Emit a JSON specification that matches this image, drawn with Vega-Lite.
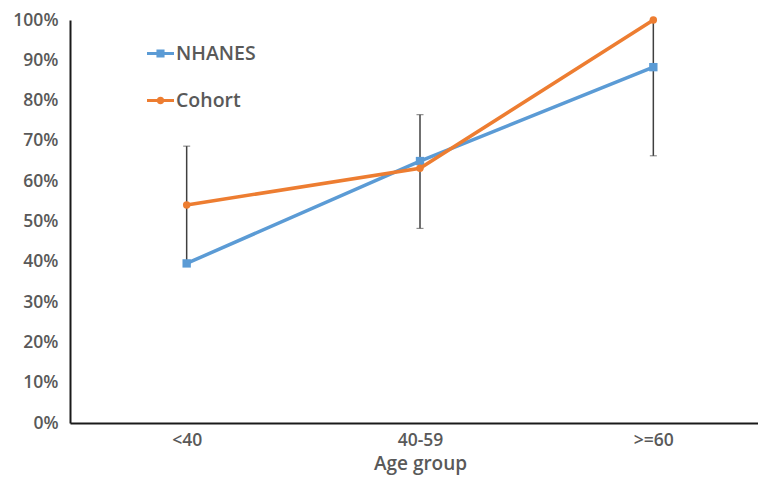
{
  "$schema": "https://vega.github.io/schema/vega-lite/v6.json",
  "width": 700,
  "height": 403,
  "autosize": {"type": "none"},
  "padding": {"left": 70, "top": 20, "right": 0, "bottom": 55},
  "background": "white",
  "config": {
    "view": {"stroke": null},
    "font": "Open Sans",
    "axis": {"grid": false, "ticks": false, "domainColor": "#1a1a1a", "domainWidth": 2, "labelColor": "#595959", "labelFontSize": 17.5, "labelFontWeight": 600, "titleColor": "#595959", "titleFontSize": 19, "titleFontWeight": 600}
  },
  "datasets": {
    "points": [
      {"age": "<40", "series": "NHANES", "value": 0.396},
      {"age": "40-59", "series": "NHANES", "value": 0.65},
      {"age": ">=60", "series": "NHANES", "value": 0.883},
      {"age": "<40", "series": "Cohort", "value": 0.541},
      {"age": "40-59", "series": "Cohort", "value": 0.632},
      {"age": ">=60", "series": "Cohort", "value": 1.0}
    ],
    "errors": [
      {"age": "<40", "lower": 0.396, "upper": 0.687},
      {"age": "40-59", "lower": 0.483, "upper": 0.765},
      {"age": ">=60", "lower": 0.663, "upper": 1.0}
    ]
  },
  "encoding": {
    "x": {
      "field": "age", "type": "ordinal",
      "scale": {"type": "point", "padding": 0.5, "domain": ["<40", "40-59", ">=60"]},
      "axis": {"title": "Age group", "labelAngle": 0, "labelPadding": 8, "titlePadding": 6}
    }
  },
  "layer": [
    {
      "data": {"name": "errors"},
      "mark": {"type": "errorbar", "ticks": {"size": 7, "color": "#404040", "strokeWidth": 1.5}, "rule": {"color": "#404040", "strokeWidth": 1.5}},
      "encoding": {
        "y": {"field": "lower", "type": "quantitative", "scale": {"domain": [0, 1]}, "axis": {"format": ".0%", "title": null, "values": [0,0.1,0.2,0.3,0.4,0.5,0.6,0.7,0.8,0.9,1], "labelPadding": 12}},
        "y2": {"field": "upper"}
      }
    },
    {
      "data": {"name": "points"},
      "transform": [{"filter": "datum.series === 'NHANES'"}],
      "mark": {"type": "line", "color": "#5B9BD5", "strokeWidth": 3.5},
      "encoding": {"y": {"field": "value", "type": "quantitative", "axis": {"format": ".0%", "title": null, "values": [0,0.1,0.2,0.3,0.4,0.5,0.6,0.7,0.8,0.9,1], "labelPadding": 12}}}
    },
    {
      "data": {"name": "points"},
      "transform": [{"filter": "datum.series === 'NHANES'"}],
      "mark": {"type": "point", "shape": "square", "filled": true, "opacity": 1, "color": "#5B9BD5", "size": 70},
      "encoding": {"y": {"field": "value", "type": "quantitative", "axis": {"format": ".0%", "title": null, "values": [0,0.1,0.2,0.3,0.4,0.5,0.6,0.7,0.8,0.9,1], "labelPadding": 12}}}
    },
    {
      "data": {"name": "points"},
      "transform": [{"filter": "datum.series === 'Cohort'"}],
      "mark": {"type": "line", "color": "#ED7D31", "strokeWidth": 3.5},
      "encoding": {"y": {"field": "value", "type": "quantitative", "axis": {"format": ".0%", "title": null, "values": [0,0.1,0.2,0.3,0.4,0.5,0.6,0.7,0.8,0.9,1], "labelPadding": 12}}}
    },
    {
      "data": {"name": "points"},
      "transform": [{"filter": "datum.series === 'Cohort'"}],
      "mark": {"type": "point", "shape": "circle", "filled": true, "opacity": 1, "color": "#ED7D31", "size": 55},
      "encoding": {"y": {"field": "value", "type": "quantitative", "axis": {"format": ".0%", "title": null, "values": [0,0.1,0.2,0.3,0.4,0.5,0.6,0.7,0.8,0.9,1], "labelPadding": 12}}}
    },
    {
      "data": {"name": "points"},
      "transform": [{"filter": "datum.value > 2"}],
      "mark": {"type": "point", "filled": true, "opacity": 1},
      "encoding": {
        "y": {"field": "value", "type": "quantitative", "axis": {"format": ".0%", "title": null, "values": [0,0.1,0.2,0.3,0.4,0.5,0.6,0.7,0.8,0.9,1], "labelPadding": 12}},
        "color": {
          "field": "series", "type": "nominal",
          "scale": {"domain": ["NHANES", "Cohort"], "range": ["#5B9BD5", "#ED7D31"]},
          "legend": {"title": null, "orient": "none", "legendX": 77, "legendY": 20, "padding": 0, "rowPadding": 24, "symbolSize": 729, "symbolStrokeWidth": 0, "symbolOpacity": 1, "labelFontSize": 19.5, "labelColor": "#595959", "labelFontWeight": 600, "labelOffset": 2}
        },
        "shape": {
          "field": "series", "type": "nominal",
          "scale": {"domain": ["NHANES", "Cohort"], "range": ["M-1,-0.11H1V0.11H-1Z M-0.3,-0.3H0.3V0.3H-0.3Z", "M-1,-0.11H1V0.11H-1Z M0.28,0A0.28,0.28,0,1,1,-0.28,0A0.28,0.28,0,1,1,0.28,0Z"]},
          "legend": {"title": null, "orient": "none", "legendX": 77, "legendY": 20, "padding": 0, "rowPadding": 24, "symbolSize": 729, "symbolStrokeWidth": 0, "symbolOpacity": 1, "labelFontSize": 19.5, "labelColor": "#595959", "labelFontWeight": 600, "labelOffset": 2}
        }
      }
    }
  ]
}
